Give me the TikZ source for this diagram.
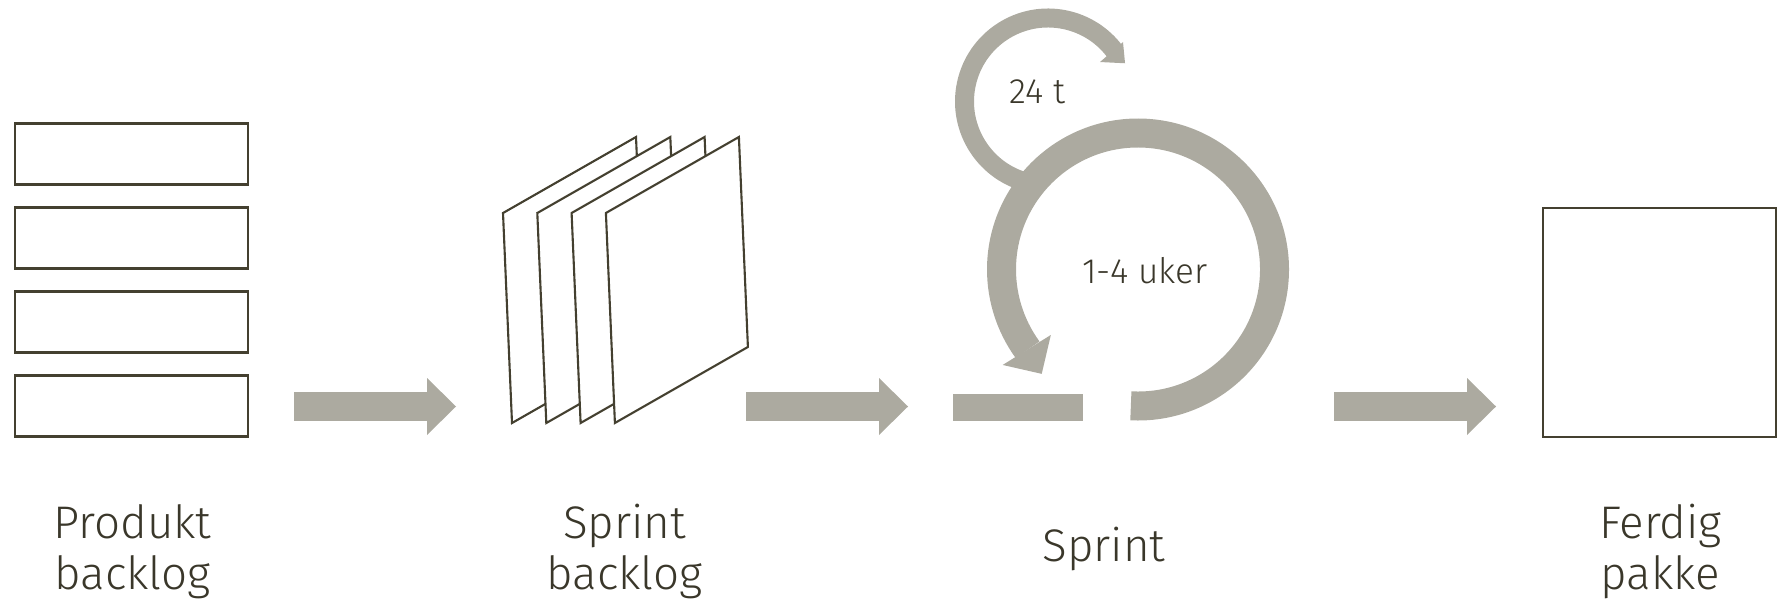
\documentclass[tikz,border=0pt]{standalone}
\usepackage{fontspec}
\setmainfont{Fira Sans}[UprightFont=* Light]
\usetikzlibrary{arrows.meta,calc}
\definecolor{boxline}{RGB}{68,64,48}
\definecolor{labeltext}{RGB}{58,55,42}
\definecolor{flowgray}{RGB}{172,170,160}

\begin{document}
\begin{tikzpicture}[x=0.02cm,y=0.02cm,
    itembox/.style={draw=boxline, line width=1.2pt, minimum width=4.66cm, minimum height=1.22cm, inner sep=0pt},
    card/.style={draw=boxline, fill=white, line width=1.2pt, line join=miter},
    flowarrow/.style={flowgray, line width=.58cm, -{Triangle[length=.58cm,width=1.14cm,line width=0pt]}},
    cyclegray/.style={flowgray},
    stagetext/.style={text=labeltext, font=\fontsize{26}{29}\selectfont, align=center},
    looptext/.style={text=labeltext, font=\fontsize{20}{24}\selectfont}]
  \useasboundingbox (0,0) rectangle (1777,603);

  % produkt backlog
  \foreach \i/\y in {1/449,2/365,3/281,4/197}
    \node[itembox] (pb\i) at (131.5,\y) {};

  % sprint backlog
  \foreach \i in {0,...,3}
    \filldraw[card] ({503+34.3*\i},390) -- ({636+34.3*\i},466) -- ({645+34.3*\i},256) -- ({512+34.3*\i},180) -- cycle;

  % sprint: 24 t loop and 1-4 uker loop
  \coordinate (day) at (1048,501.5);
  \coordinate (iter) at (1138,333.5);
  \draw[cyclegray, line width=.38cm] (day) ++(258:83.5) arc[start angle=258, end angle=37, radius=83.5];
  \fill[cyclegray] ($(day)+(38.4:95.7)$) -- ($(day)+(26.4:86)$) -- ($(day)+(37.2:65.3)$) -- cycle;
  \draw[cyclegray, line width=.58cm] (iter) ++(267:136.5) arc[start angle=267, end angle=576, radius=136.5];
  \fill[cyclegray] ($(iter)+(216.9:109)$) -- ($(iter)+(215.2:165.6)$) -- ($(iter)+(227.3:142)$) -- cycle;
  \fill[cyclegray] (952.7,182.3) rectangle (1083.3,209);
  \node[looptext, anchor=base] (daylbl) at (1037.5,500) {24 t};
  \node[looptext, anchor=base] (iterlbl) at (1145,320) {1-4 uker};

  % ferdig pakke
  \node[itembox, minimum height=4.57cm] (fp) at (1659.3,280.5) {};

  % flow
  \coordinate (a1s) at (294,196.5);
  \coordinate (a1e) at (456,196.5);
  \coordinate (a2s) at (746,196.5);
  \coordinate (a2e) at (908,196.5);
  \coordinate (a3s) at (1334,196.5);
  \coordinate (a3e) at (1496,196.5);
  \draw[flowarrow] (a1s) -- (a1e);
  \draw[flowarrow] (a2s) -- (a2e);
  \draw[flowarrow] (a3s) -- (a3e);

  % labels
  \node[stagetext, anchor=base] (pbl) at (132.6,14) {Produkt\\backlog};
  \node[stagetext, anchor=base] (sbl) at (624.5,14) {Sprint\\backlog};
  \node[stagetext, anchor=base] (spl) at (1104,41.3) {Sprint};
  \node[stagetext, anchor=base] (fpl) at (1660.5,14) {Ferdig\\pakke};
\end{tikzpicture}
\end{document}
